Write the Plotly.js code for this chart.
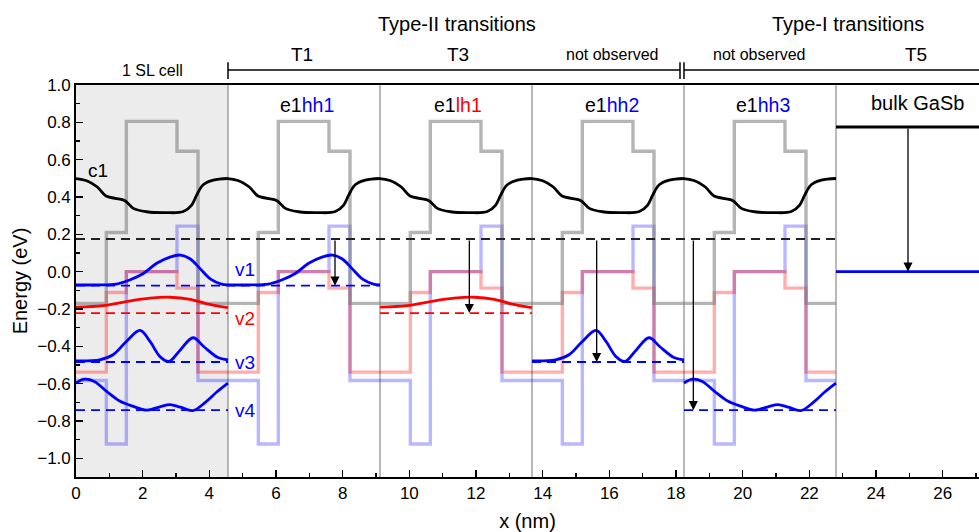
<!DOCTYPE html>
<html><head><meta charset="utf-8">
<script src="https://cdn.plot.ly/plotly-3.0.1.min.js"></script>
<style>html,body{margin:0;padding:0;background:#fff}</style>
</head><body><div id="chart" style="width:979px;height:532px"></div>
<script>
// ---------------- data ----------------
const cellPeriod = 4.56;                 // superlattice period (nm)
const slCells = [0, 1, 2, 3, 4];         // SL cells drawn
const layerEdges = [0.91, 1.51, 3.03, 3.66];          // interfaces inside a cell (nm)
const cbLevels = [-0.17, 0.21, 0.805, 0.645, -0.17];   // conduction band (grey)
const lhLevels = [-0.538, -0.112, 0.0, -0.088, -0.538]; // light-hole band (red)
const hhLevels = [-0.583, -0.923, 0.0, 0.244, -0.583];  // heavy-hole band (blue)

// wavefunctions inside one cell (x in nm from cell start, y in eV)
const c1X = [0, 0.32, 0.63, 0.90, 1.17, 1.47, 1.72, 2.12, 2.72, 3.22, 3.47, 3.62, 3.81, 4.12, 4.56];
const c1Y = [0.499, 0.487, 0.455, 0.405, 0.393, 0.38, 0.339, 0.321, 0.316, 0.322, 0.357, 0.41, 0.464, 0.49, 0.499];
const v1X = [0, 0.6, 1.21, 1.61, 2.02, 2.42, 2.82, 3.13, 3.43, 3.73, 4.04, 4.34, 4.56];
const v1Y = [-0.071, -0.071, -0.067, -0.045, -0.01, 0.045, 0.078, 0.089, 0.068, 0.015, -0.04, -0.065, -0.071];
const v2X = [0, 0.81, 1.51, 2.22, 2.82, 3.43, 3.93, 4.56];
const v2Y = [-0.19, -0.182, -0.16, -0.142, -0.137, -0.148, -0.172, -0.192];
const v3X = [0, 0.71, 1.11, 1.51, 1.92, 2.22, 2.52, 2.79, 3.13, 3.51, 3.83, 4.24, 4.56];
const v3Y = [-0.478, -0.472, -0.445, -0.374, -0.315, -0.374, -0.455, -0.481, -0.419, -0.354, -0.401, -0.458, -0.472];
const v4X = [0, 0.25, 0.55, 0.91, 1.31, 1.72, 2.12, 2.52, 2.82, 3.13, 3.51, 3.88, 4.24, 4.56];
const v4Y = [-0.597, -0.576, -0.588, -0.64, -0.693, -0.722, -0.742, -0.724, -0.712, -0.726, -0.744, -0.7, -0.642, -0.597];

// energy levels (dashed) and the cells in which each state is shown
const c1Level = 0.175, v1Level = -0.075, v2Level = -0.222, v3Level = -0.484, v4Level = -0.742;
const c1Cells = [0, 1, 2, 3, 4];
const v1Cells = [0, 1];
const v2Cells = [0, 2];
const v3Cells = [0, 3];
const v4Cells = [0, 4];

// bulk GaSb
const bulkCB = 0.775, bulkVB = 0.0;
const bulkEnd = 28;

// transition arrows
const transX = [7.77, 11.80, 15.62, 18.52];
const transTo = [v1Level, v2Level, v3Level, v4Level];
const bulkArrowX = 24.96;

// ticks
const xTickVals = [0, 2, 4, 6, 8, 10, 12, 14, 16, 18, 20, 22, 24, 26];
const yTickVals = [-1.0, -0.8, -0.6, -0.4, -0.2, 0.0, 0.2, 0.4, 0.6, 0.8, 1.0];

// labels
const stateLabels = ['v1', 'v2', 'v3', 'v4'];
const stateLabelY = [0.012, -0.25, -0.486, -0.742];
const stateColors = ['blue', 'red', 'blue', 'blue'];
const panelLabels = ['e1<span style="color:blue">hh1</span>', 'e1<span style="color:red">lh1</span>',
                     'e1<span style="color:blue">hh2</span>', 'e1<span style="color:blue">hh3</span>'];
const panelLabelX = [6.93, 11.46, 16.08, 20.61];
const transNames = ['T1', 'T3', 'not observed', 'not observed', 'T5'];
const transNameX = [6.78, 11.46, 16.08, 20.49, 25.2];

// ---------------- build traces ----------------
const FONT = 'Liberation Sans, Arial, Helvetica, sans-serif';
const P = cellPeriod;

function bandTrace(levels, color) {
  const x = [], y = [];
  slCells.forEach(c => {
    const xs = [0, ...layerEdges, P];
    const ys = [...levels, levels[levels.length - 1]];
    xs.forEach((v, i) => { x.push(c * P + v); y.push(ys[i]); });
  });
  return {x, y, mode: 'lines', line: {color, width: 3.4, shape: 'hv'}, hoverinfo: 'skip', showlegend: false};
}
function waveTrace(wx, wy, cells, color) {
  const x = [], y = [];
  cells.forEach((c, k) => {
    if (k > 0) { x.push(null); y.push(null); }
    wx.forEach((v, i) => { x.push(c * P + v); y.push(wy[i]); });
  });
  return {x, y, mode: 'lines', line: {color, width: 2.8, shape: 'spline', smoothing: 1}, connectgaps: false, hoverinfo: 'skip', showlegend: false};
}
function levelTrace(level, cells, color, contiguous) {
  const x = [], y = [];
  if (contiguous) {
    x.push(cells[0] * P, (cells[cells.length - 1] + 1) * P); y.push(level, level);
  } else {
    cells.forEach((c, k) => {
      if (k > 0) { x.push(null); y.push(null); }
      x.push(c * P, (c + 1) * P); y.push(level, level);
    });
  }
  return {x, y, mode: 'lines', line: {color, width: 1.8, dash: '9px,6px'}, connectgaps: false, hoverinfo: 'skip', showlegend: false};
}

const traces = [
  bandTrace(hhLevels, 'rgba(0,0,255,0.28)'),
  bandTrace(lhLevels, 'rgba(255,0,0,0.32)'),
  bandTrace(cbLevels, 'rgba(120,120,120,0.55)'),
  levelTrace(c1Level, c1Cells, '#222', true),
  levelTrace(v1Level, v1Cells, 'blue', true),
  levelTrace(v2Level, v2Cells, 'red', false),
  levelTrace(v3Level, v3Cells, 'blue', false),
  levelTrace(v4Level, v4Cells, 'blue', false),
  waveTrace(c1X, c1Y, c1Cells, 'black'),
  waveTrace(v1X, v1Y, v1Cells, 'blue'),
  waveTrace(v2X, v2Y, v2Cells, 'red'),
  waveTrace(v3X, v3Y, v3Cells, 'blue'),
  waveTrace(v4X, v4Y, v4Cells, 'blue'),
  {x: [slCells.length * P, bulkEnd], y: [bulkCB, bulkCB], mode: 'lines', line: {color: 'black', width: 2.8}, hoverinfo: 'skip', showlegend: false},
  {x: [slCells.length * P, bulkEnd], y: [bulkVB, bulkVB], mode: 'lines', line: {color: 'blue', width: 2.8}, hoverinfo: 'skip', showlegend: false}
];

// ---------------- shapes ----------------
const shapes = [
  {type: 'rect', xref: 'x', yref: 'paper', x0: 0, x1: P, y0: 0, y1: 1, fillcolor: '#ececec', line: {width: 0}, layer: 'below'}
];
slCells.forEach(c => {
  shapes.push({type: 'line', xref: 'x', yref: 'paper', x0: (c + 1) * P, x1: (c + 1) * P, y0: 0, y1: 1,
               line: {color: '#8a8a8a', width: 1.2}, layer: 'below'});
});
const brY = 1.038, brTop = 1.058, brBot = 1.015;
const breakA = 18.12, breakB = 18.24;
shapes.push({type: 'line', xref: 'x', yref: 'paper', x0: P, x1: breakA, y0: brY, y1: brY, line: {color: 'black', width: 1.5}});
shapes.push({type: 'line', xref: 'x', yref: 'paper', x0: breakB, x1: bulkEnd, y0: brY, y1: brY, line: {color: 'black', width: 1.5}});
[P, breakA, breakB].forEach(xv => {
  shapes.push({type: 'line', xref: 'x', yref: 'paper', x0: xv, x1: xv, y0: brBot, y1: brTop, line: {color: 'black', width: 1.5}});
});

// ---------------- annotations ----------------
const ann = [];
function txt(x, y, text, size, color, opts) {
  return Object.assign({x, y, xref: 'x', yref: 'y', text, showarrow: false, xanchor: 'center', yanchor: 'middle',
    font: {family: FONT, size, color: color || 'black'}}, opts || {});
}
ann.push(txt(0.66, 0.544, 'c1', 19));
stateLabels.forEach((s, i) => ann.push(txt(4.72, stateLabelY[i], s, 19, stateColors[i], {xanchor: 'left'})));
panelLabels.forEach((s, i) => ann.push(txt(panelLabelX[i], 0.893, s, 19.5)));
ann.push(txt(25.23, 0.905, 'bulk GaSb', 20));
// top labels (paper y)
const topY = 1.079;
transNames.forEach((s, i) => ann.push(txt(transNameX[i], topY, s, s === 'not observed' ? 16 : 19, 'black', {yref: 'paper'})));
ann.push(txt(2.28, 1.036, '1 SL cell', 16, 'black', {yref: 'paper'}));
ann.push(txt(11.43, 1.156, 'Type-II transitions', 20, 'black', {yref: 'paper'}));
ann.push(txt(23.16, 1.156, 'Type-I transitions', 20, 'black', {yref: 'paper'}));
// arrows
transX.forEach((xv, i) => {
  ann.push({x: xv, y: transTo[i], ax: xv, ay: c1Level, xref: 'x', yref: 'y', axref: 'x', ayref: 'y',
            text: '', showarrow: true, arrowhead: 2, arrowsize: 1.4, arrowwidth: 1.3, arrowcolor: 'black', standoff: 0});
});
ann.push({x: bulkArrowX, y: bulkVB, ax: bulkArrowX, ay: bulkCB, xref: 'x', yref: 'y', axref: 'x', ayref: 'y',
          text: '', showarrow: true, arrowhead: 2, arrowsize: 1.4, arrowwidth: 1.3, arrowcolor: 'black', standoff: 0});

const layout = {
  width: 979, height: 532,
  margin: {l: 76, r: 0, t: 85, b: 55},
  paper_bgcolor: 'white', plot_bgcolor: 'white',
  font: {family: FONT, size: 17, color: 'black'},
  showlegend: false,
  xaxis: {
    range: [0, 27.09], tickmode: 'array', tickvals: xTickVals, ticktext: xTickVals.map(String),
    ticks: 'inside', ticklen: 7, tickwidth: 1.5, tickcolor: 'black',
    minor: {dtick: 1, tick0: 0, ticks: 'inside', ticklen: 4, tickwidth: 1.3, tickcolor: 'black', showgrid: false},
    showline: true, linecolor: 'black', linewidth: 1.8, mirror: true,
    showgrid: false, zeroline: false, tickfont: {size: 17},
    title: {text: 'x (nm)', font: {size: 20}, standoff: 17}
  },
  yaxis: {
    range: [-1.1, 1.0], tickmode: 'array', tickvals: yTickVals, ticktext: yTickVals.map(v => (v < 0 ? '\u2212' : '') + Math.abs(v).toFixed(1)),
    ticks: 'inside', ticklen: 7, tickwidth: 1.5, tickcolor: 'black',
    minor: {dtick: 0.1, tick0: 0, ticks: 'inside', ticklen: 4, tickwidth: 1.3, tickcolor: 'black', showgrid: false},
    showline: true, linecolor: 'black', linewidth: 1.8, mirror: false,
    showgrid: false, zeroline: false, tickfont: {size: 17},
    title: {text: 'Energy (eV)', font: {size: 20}, standoff: 4}
  },
  shapes, annotations: ann
};

Plotly.newPlot('chart', traces, layout, {displayModeBar: false, staticPlot: true});
</script></body></html>
